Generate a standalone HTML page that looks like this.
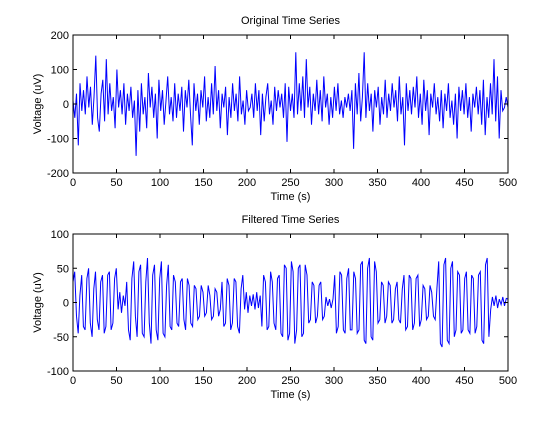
<!DOCTYPE html>
<html><head><meta charset="utf-8"><style>
body{margin:0;background:#fff;}
svg text{font-family:"Liberation Sans",sans-serif;font-size:11px;fill:#000;}
</style></head><body>
<svg id="c" width="560" height="420"></svg>
<script>
const xTicks=[0,50,100,150,200,250,300,350,400,450,500];
const yTicksTop=[-200,-100,0,100,200];
const yTicksBot=[-100,-50,0,50,100];
const originalValues=[10,-40,30,-120,60,-20,40,-30,80,-10,50,-60,20,140,-40,-80,30,70,-50,130,-30,60,-20,20,-70,100,-10,40,-30,60,-60,30,-20,50,-40,10,-150,40,-80,60,-30,20,-70,90,-10,50,-40,30,-100,70,-20,40,-60,10,80,-30,20,-50,60,-40,30,-20,50,-80,40,-10,70,-30,-120,60,-20,30,-60,40,-10,80,-50,20,-40,60,-30,110,-20,40,-70,30,-10,50,-90,20,-40,60,-20,30,-50,80,-30,10,-60,40,-20,-10,30,-40,60,-20,40,-90,30,-50,20,60,-30,10,-60,50,-20,40,-10,30,-40,60,-110,50,-20,30,-40,150,-30,60,-20,80,-40,130,-10,50,-60,30,-20,70,-30,40,-50,80,-10,30,-60,20,-40,50,-20,60,-30,10,-40,20,-10,30,-20,40,-130,60,-30,90,-50,20,150,-40,60,-20,30,-80,40,-10,50,-60,20,-30,70,-40,30,-20,60,-10,40,-50,80,-30,20,-120,60,-20,40,-30,50,-10,80,-40,30,-60,70,-20,40,-90,30,-10,60,-30,20,-50,40,-70,30,-20,60,-40,10,-60,30,-100,50,-20,40,-30,60,-40,20,-80,30,-10,50,-30,40,-60,70,-90,20,-40,60,-30,130,-50,80,-100,40,-20,-10,20,-10];
const filteredValues=[30,45,-20,-45,10,40,-35,-40,35,50,-30,-50,20,45,-25,-40,30,40,-45,-35,40,45,-40,-30,35,50,
-10,15,-15,10,-5,
30,-40,-55,35,60,-20,-50,45,55,-45,-50,30,65,-30,-60,40,55,-40,-55,35,60,-45,-50,25,55,
-35,-40,40,30,-30,-35,30,35,-25,-40,35,25,-30,-35,25,
20,-25,-20,25,15,-20,-15,25,10,-25,-20,20,15,-20,-10,
30,-35,-30,35,25,-40,-30,35,30,-35,-45,20,40,
-10,15,-15,10,-5,12,-10,15,-8,10,
-35,40,30,-40,-35,45,30,-30,-40,35,40,-45,
-50,55,50,-55,-45,60,45,-60,-40,50,55,-50,-45,55,40,
-30,-25,30,25,-30,-20,25,30,-25,-20,
8,-5,5,-8,5,
40,-45,-35,45,40,-40,-45,35,50,-40,-40,45,35,-45,-40,
55,60,-55,-60,50,65,-50,-55,60,45,
-30,-25,30,25,-30,-20,30,25,-30,-25,20,30,-25,-30,20,
40,-40,-35,40,35,-40,-30,35,40,-35,
-25,25,20,-25,-20,25,15,-20,-25,20,
60,-60,-65,55,65,-55,-60,50,60,-50,
-40,45,40,-45,-40,35,45,-40,-45,40,35,-45,-35,40,45,
-55,-60,55,65,-50,
-10,8,-5,10,-8,5,-3,8,-5,6,5];

const svg=document.getElementById('c');
const NS='http://www.w3.org/2000/svg';
function mk(tag,attrs,parent){const e=document.createElementNS(NS,tag);for(const k in attrs)e.setAttribute(k,attrs[k]);(parent||svg).appendChild(e);return e;}
const X0=73,X1=508;
function xs(v){return X0+(v-0)/(500-0)*(X1-X0);}
function drawPanel(name,top,bot,ymin,ymax,yTicks,vals,title){
  const g=mk('g',{});
  
  
  const ys=v=>bot-(v-ymin)/(ymax-ymin)*(bot-top);
  const step=500/(vals.length-1);
  let d='';
  vals.forEach((v,i)=>{d+=(i?'L':'M')+xs(i*step).toFixed(1)+','+ys(v).toFixed(1);});
  const line=mk('path',{d:d,fill:'none',stroke:'#0000ff','stroke-width':1},g);
  
  
  const box=mk('rect',{x:X0,y:top,width:X1-X0,height:bot-top,fill:'none',stroke:'#000','stroke-width':1},g);
  
  
  xTicks.forEach(t=>{const x=xs(t);
    mk('line',{x1:x,x2:x,y1:bot,y2:bot-4,stroke:'#000'},g);
    mk('line',{x1:x,x2:x,y1:top,y2:top+4,stroke:'#000'},g);
    const tx=mk('text',{x:x,y:bot+13,'text-anchor':'middle'},g);tx.textContent=t;
    
    
  });
  yTicks.forEach(t=>{const y=ys(t);
    mk('line',{x1:X0,x2:X0+4,y1:y,y2:y,stroke:'#000'},g);
    mk('line',{x1:X1,x2:X1-4,y1:y,y2:y,stroke:'#000'},g);
    const tx=mk('text',{x:X0-4,y:y+4,'text-anchor':'end'},g);tx.textContent=t;
    
    
  });
  const ti=mk('text',{x:(X0+X1)/2,y:top-11,'text-anchor':'middle'},g);ti.textContent=title;
  
  
  const xl=mk('text',{x:(X0+X1)/2,y:bot+27,'text-anchor':'middle'},g);xl.textContent='Time (s)';
  
  
  const yl=mk('text',{x:0,y:0,'text-anchor':'middle',transform:'translate(41,'+((top+bot)/2)+') rotate(-90)'},g);yl.textContent='Voltage (uV)';
  
  
}
drawPanel('original-panel',35,173,-200,200,yTicksTop,originalValues,'Original Time Series');
drawPanel('filtered-panel',234,371,-100,100,yTicksBot,filteredValues,'Filtered Time Series');
</script>
</body></html>
